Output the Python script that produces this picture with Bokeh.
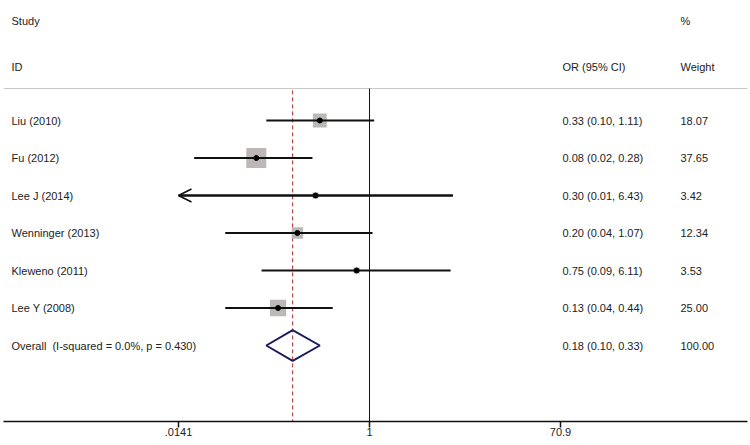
import math
from bokeh.plotting import figure
from bokeh.models import (ColumnDataSource, Range1d, FixedTicker, CustomJSTickFormatter,
                          LabelSet, Label, Arrow, OpenHead)
from bokeh.core.properties import value
from bokeh.embed import file_html
from bokeh.resources import INLINE

# ---------------- data ----------------
studies = ["Liu (2010)", "Fu (2012)", "Lee J (2014)", "Wenninger (2013)", "Kleweno (2011)", "Lee Y (2008)"]
or_vals = [0.33, 0.08, 0.30, 0.20, 0.75, 0.13]
ci_low = [0.10, 0.02, 0.01, 0.04, 0.09, 0.04]
ci_high = [1.11, 0.28, 6.43, 1.07, 6.11, 0.44]
weights = [18.07, 37.65, 3.42, 12.34, 3.53, 25.00]

overall_label = "Overall \u00a0(I-squared = 0.0%, p = 0.430)"
overall_or = 0.18
overall_low = 0.10
overall_high = 0.33
overall_weight = 100.00

tick_vals = [0.0141, 1, 70.9]
tick_labels = [".0141", "1", "70.9"]

# ---------------- layout ----------------
FONT = "Liberation Sans"
TXT = "#222222"
W, H = 750, 445
LEFT, RIGHT, BOTTOM = 3, 3, 24
FW = W - LEFT - RIGHT
px_per_ln = 44.82
one_px = 369 - LEFT
x_start = math.exp(-one_px / px_per_ln)
x_end = math.exp((FW - one_px) / px_per_ln)
row_px = 37.5
first_row_page = 120
y_top = (0 - first_row_page) / row_px
y_bot = (H - BOTTOM - first_row_page) / row_px
line_top = (88 - first_row_page) / row_px

p = figure(width=W, height=H, x_axis_type="log", output_backend="svg",
           toolbar_location=None, x_range=Range1d(x_start, x_end),
           y_range=Range1d(y_bot, y_top), y_axis_location=None,
           min_border_left=LEFT, min_border_right=RIGHT, min_border_top=0,
           min_border_bottom=BOTTOM)
p.grid.visible = False
p.outline_line_color = None
p.background_fill_color = "white"
p.border_fill_color = "white"

n = len(studies)
rows = list(range(n))
overall_row = n
lo_lim = tick_vals[0]

clip_low = [max(l, lo_lim) for l in ci_low]
src = ColumnDataSource(dict(
    y=rows, study=studies, orv=or_vals, lo=clip_low, hi=ci_high,
    size=[3.26 * math.sqrt(w) for w in weights],
    ortext=[f"{o:.2f} ({l:.2f}, {h:.2f})" for o, l, h in zip(or_vals, ci_low, ci_high)],
    wtext=[f"{w:.2f}" for w in weights],
))

# top divider line
p.segment(x0=[x_start], x1=[x_end], y0=[line_top], y1=[line_top], line_color="#c8c8c8", line_width=1)
# null line at 1
p.segment(x0=[1], x1=[1], y0=[line_top], y1=[y_bot], line_color="#111111", line_width=1)
# overall dashed line
p.segment(x0=[overall_or], x1=[overall_or], y0=[line_top + 0.05], y1=[y_bot],
          line_color="#a8282c", line_width=1, line_dash="4 3")

# weight squares
p.scatter(x="orv", y="y", size="size", marker="square", source=src,
          fill_color="#bdb8b8", line_color=None)
# CI lines
p.segment(x0="lo", x1="hi", y0="y", y1="y", source=src, line_color="#111111", line_width=1.8)
# point estimate dots
p.scatter(x="orv", y="y", size=5, marker="circle", source=src, fill_color="black", line_color="black")

# arrows for truncated CIs
for i in range(n):
    if ci_low[i] < lo_lim:
        p.add_layout(Arrow(end=OpenHead(size=13, line_width=1.6, line_color="#111111"),
                           x_start=ci_high[i], y_start=rows[i], x_end=lo_lim, y_end=rows[i],
                           line_width=1.8, line_color="#111111"))

# overall diamond
dh = 0.41
p.patch(x=[overall_low, overall_or, overall_high, overall_or],
        y=[overall_row, overall_row - dh, overall_row, overall_row + dh],
        fill_color=None, line_color="#1c1c5c", line_width=2)

# text columns (screen x positions, relative to the frame)
X_STUDY, X_OR, X_W = 8, 559, 677

def labelset(field, xs):
    return LabelSet(x=xs, y="y", text=field, source=src, x_units="screen",
                    text_font=value(FONT), text_font_size="11px", text_color=TXT,
                    text_baseline="middle", text_align="left")

p.add_layout(labelset("study", X_STUDY))
p.add_layout(labelset("ortext", X_OR))
p.add_layout(labelset("wtext", X_W))

def lab(txt, x, y):
    p.add_layout(Label(x=x, y=y, x_units="screen", text=txt, text_font=FONT,
                       text_font_size="11px", text_color=TXT, text_baseline="middle"))

hdr1 = (20 - first_row_page) / row_px
hdr2 = (66 - first_row_page) / row_px
lab("Study", X_STUDY, hdr1)
lab("%", X_W, hdr1)
lab("ID", X_STUDY, hdr2)
lab("OR (95% CI)", X_OR, hdr2)
lab("Weight", X_W, hdr2)
lab(overall_label, X_STUDY, overall_row)
lab(f"{overall_or:.2f} ({overall_low:.2f}, {overall_high:.2f})", X_OR, overall_row)
lab(f"{overall_weight:.2f}", X_W, overall_row)

# axis
ax = p.xaxis[0]
ax.ticker = FixedTicker(ticks=tick_vals)
ax.formatter = CustomJSTickFormatter(args=dict(tvals=tick_vals, tlabels=tick_labels), code="""
    for (let i = 0; i < tvals.length; i++) {
        if (Math.abs(tvals[i] - tick) < 1e-6 * Math.max(1, Math.abs(tvals[i]))) return tlabels[i];
    }
    return '';
""")
ax.axis_line_color = "#111111"
ax.axis_line_width = 1.5
ax.major_tick_line_color = "#111111"
ax.major_tick_line_width = 1.5
ax.major_tick_out = 6
ax.major_tick_in = 0
ax.minor_tick_line_color = None
ax.major_label_standoff = 0
ax.major_label_text_font = FONT
ax.major_label_text_font_size = "11px"
ax.major_label_text_color = TXT

open("out.html", "w").write(file_html(p, INLINE))
